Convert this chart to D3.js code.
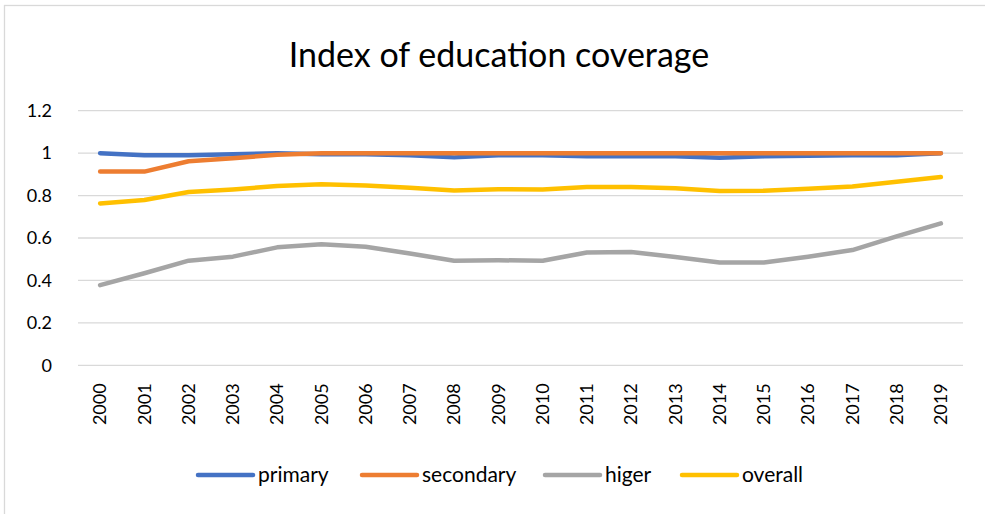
<!DOCTYPE html>
<html>
<head>
<meta charset="utf-8">
<script src="https://cdn.jsdelivr.net/npm/d3@7"></script>
<style>
  html, body { margin: 0; padding: 0; background: #fff; }
  svg { display: block; font-family: "Lato", "Open Sans", sans-serif; }
</style>
</head>
<body>
<svg id="chart" width="985" height="514"></svg>
<script>
// Years on the category axis
const years = ["2000","2001","2002","2003","2004","2005","2006","2007","2008","2009",
               "2010","2011","2012","2013","2014","2015","2016","2017","2018","2019"];

// Coverage index per level of education
const primary   = [1.000,0.990,0.990,0.995,1.000,0.995,0.995,0.990,0.980,0.990,
                   0.990,0.985,0.985,0.985,0.978,0.985,0.988,0.990,0.990,1.000];
const secondary = [0.913,0.913,0.962,0.976,0.992,1.000,1.000,1.000,1.000,1.000,
                   1.000,1.000,1.000,1.000,1.000,1.000,1.000,1.000,1.000,1.000];
const higer     = [0.378,0.434,0.493,0.512,0.556,0.570,0.559,0.527,0.493,0.495,
                   0.493,0.532,0.534,0.510,0.485,0.485,0.512,0.543,0.608,0.669];
const overall   = [0.763,0.779,0.817,0.829,0.845,0.853,0.848,0.837,0.824,0.830,
                   0.829,0.840,0.840,0.834,0.821,0.823,0.832,0.843,0.865,0.887];

const yTicks = [0, 0.2, 0.4, 0.6, 0.8, 1, 1.2];
const yTickLabels = ["0", "0.2", "0.4", "0.6", "0.8", "1", "1.2"];

const seriesNames  = ["primary", "secondary", "higer", "overall"];
const seriesValues = [primary, secondary, higer, overall];
const seriesColors = ["#4472C4", "#ED7D31", "#A5A5A5", "#FFC000"];

const svg = d3.select("#chart");

// Chart area frame
svg.append("rect")
  .attr("x", 4.5).attr("y", 5.5)
  .attr("width", 1000).attr("height", 520)
  .attr("fill", "#fff")
  .attr("stroke", "#D9D9D9").attr("stroke-width", 1.3);

// Title
svg.append("text")
  .attr("x", 499).attr("y", 67)
  .attr("text-anchor", "middle")
  .attr("font-size", 34)
  .attr("fill", "#000")
  .text("Index of education coverage");

const plot = { left: 78, right: 963, top: 110.7, bottom: 365.3 };

const x = d3.scaleBand().domain(years).range([plot.left, plot.right]);
const y = d3.scaleLinear().domain([0, 1.2]).range([plot.bottom, plot.top]);

// Horizontal gridlines
svg.append("g")
  .selectAll("line")
  .data(yTicks)
  .join("line")
  .attr("x1", plot.left).attr("x2", plot.right)
  .attr("y1", d => y(d)).attr("y2", d => y(d))
  .attr("stroke", "#D9D9D9").attr("stroke-width", 1.3);

// Value axis labels
const yAxis = d3.axisLeft(y)
  .tickValues(yTicks)
  .tickFormat((d, i) => yTickLabels[i])
  .tickSize(0)
  .tickPadding(0);
const gy = svg.append("g").attr("transform", "translate(52,0)").call(yAxis);
gy.select(".domain").remove();
gy.selectAll("text")
  .attr("font-size", 18)
  .attr("fill", "#000")
  .attr("font-family", "Lato, 'Open Sans', sans-serif");

// Category axis labels, rotated
const xAxis = d3.axisBottom(x).tickSize(0).tickPadding(0);
const gx = svg.append("g").attr("transform", `translate(0,${plot.bottom})`).call(xAxis);
gx.select(".domain").remove();
gx.selectAll("text")
  .attr("font-size", 18)
  .attr("fill", "#000")
  .attr("font-family", "Lato, 'Open Sans', sans-serif")
  .attr("text-anchor", "end")
  .attr("dy", "0.35em")
  .attr("transform", "translate(0,18) rotate(-90)")
  .attr("x", 0).attr("y", 0);

// Series lines
const line = d3.line()
  .x((d, i) => x(years[i]) + x.bandwidth() / 2)
  .y(d => y(d));

svg.append("g")
  .selectAll("path")
  .data(seriesValues)
  .join("path")
  .attr("d", d => line(d))
  .attr("fill", "none")
  .attr("stroke", (d, i) => seriesColors[i])
  .attr("stroke-width", 4.5)
  .attr("stroke-linecap", "round")
  .attr("stroke-linejoin", "round");

// Legend
const legendX = [198, 362, 545, 682];
const legend = svg.append("g")
  .selectAll("g")
  .data(seriesNames)
  .join("g")
  .attr("transform", (d, i) => `translate(${legendX[i]},475)`);
legend.append("line")
  .attr("x1", 0).attr("x2", 55)
  .attr("y1", 0).attr("y2", 0)
  .attr("stroke", (d, i) => seriesColors[i])
  .attr("stroke-width", 4.5)
  .attr("stroke-linecap", "round");
legend.append("text")
  .attr("x", 60).attr("y", 0)
  .attr("dy", "0.35em")
  .attr("font-size", 21)
  .attr("fill", "#000")
  .text(d => d);
</script>
</body>
</html>
